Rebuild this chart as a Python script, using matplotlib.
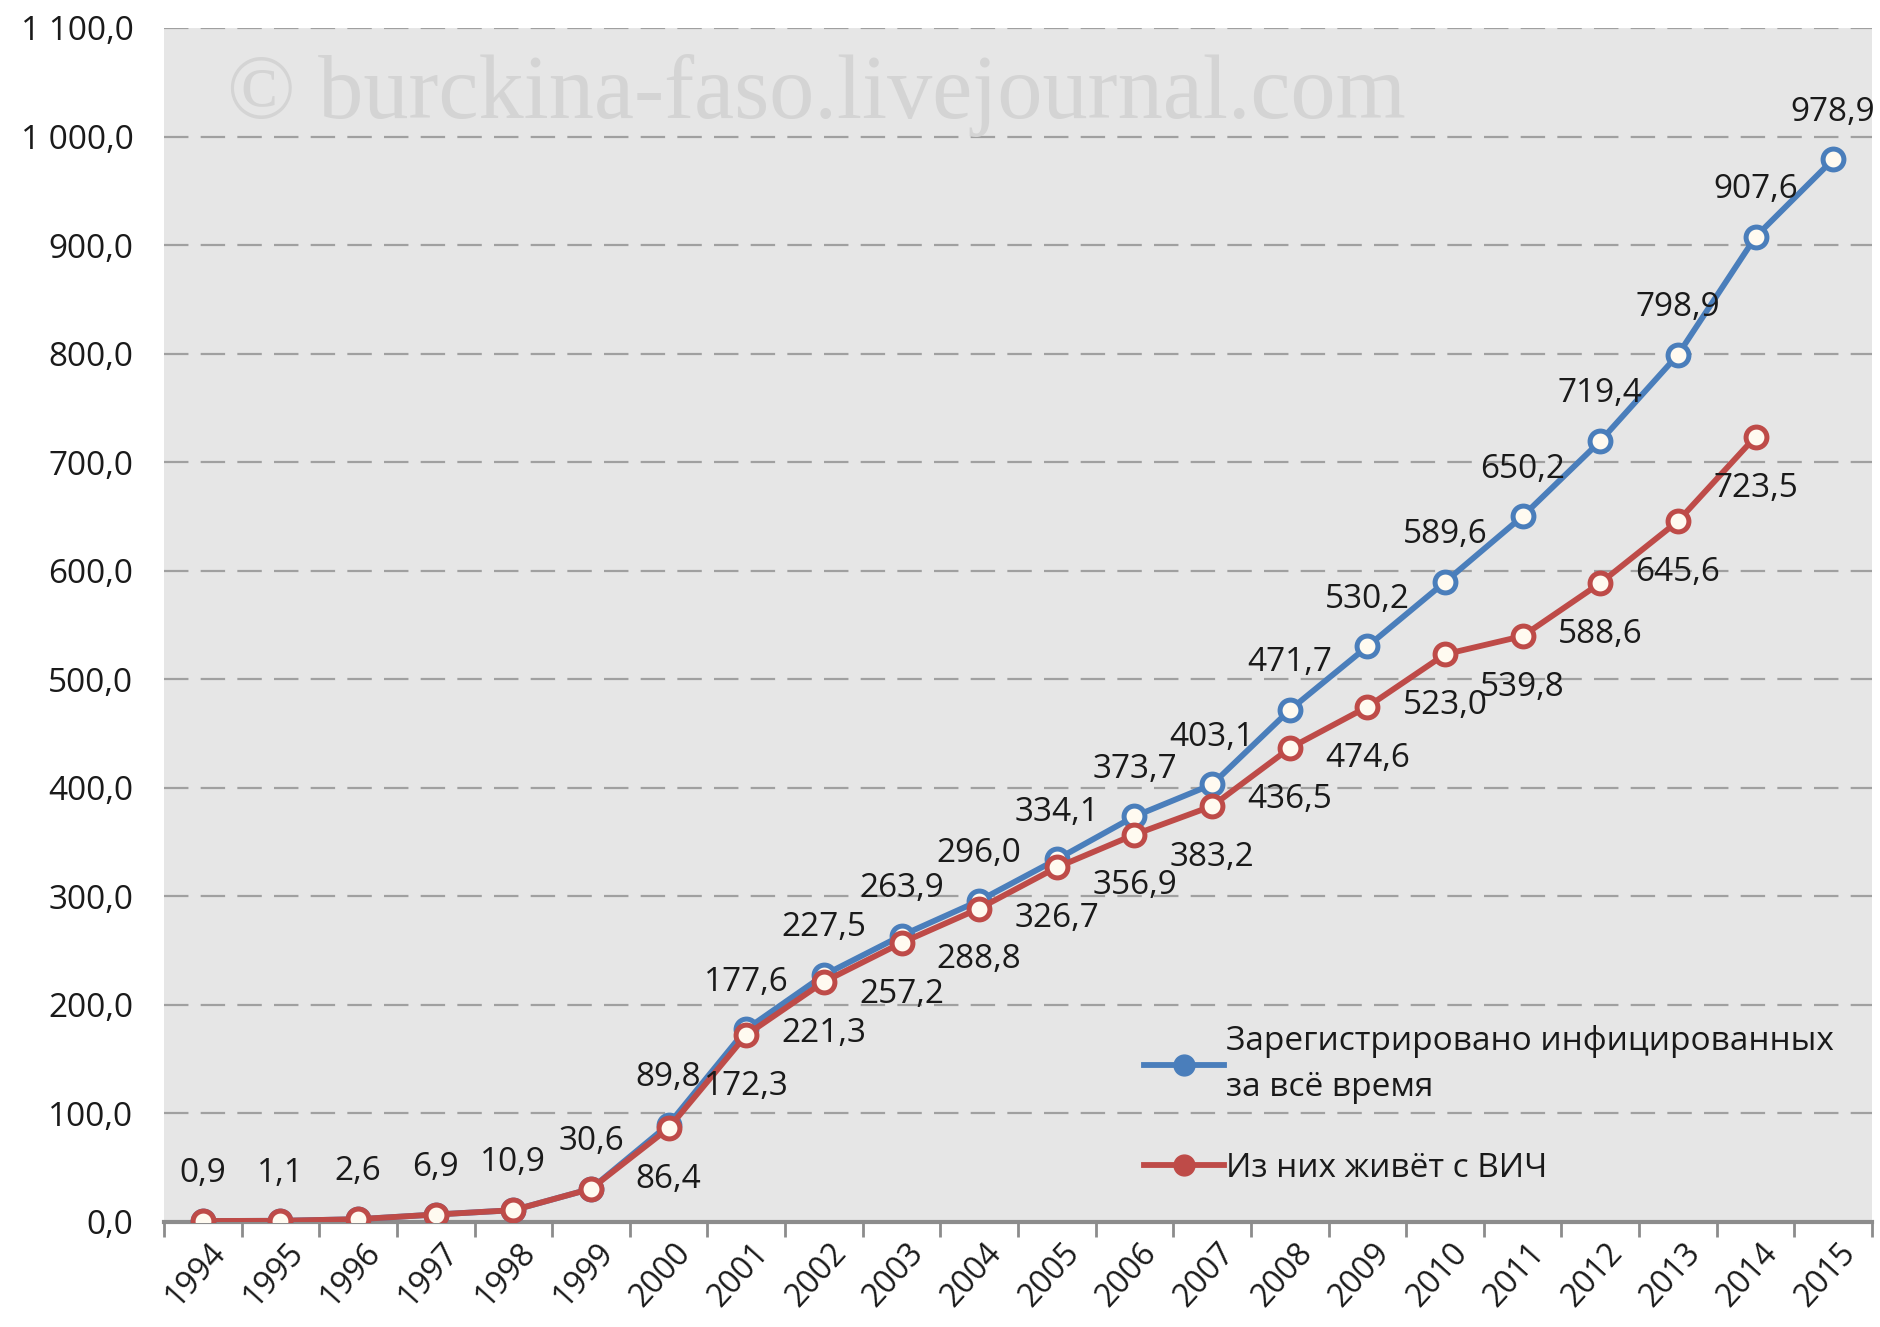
import matplotlib
matplotlib.use("Agg")
import matplotlib.pyplot as plt
import matplotlib.transforms as mtransforms
from matplotlib.lines import Line2D
import numpy as np

plt.rcParams['font.family'] = ['Open Sans', 'DejaVu Sans']

years = [str(y) for y in range(1994, 2016)]
registered = [0.9, 1.1, 2.6, 6.9, 10.9, 30.6, 89.8, 177.6, 227.5, 263.9, 296.0,
              334.1, 373.7, 403.1, 471.7, 530.2, 589.6, 650.2, 719.4, 798.9, 907.6, 978.9]
living = [0.9, 1.1, 2.6, 6.9, 10.9, 30.6, 86.4, 172.3, 221.3, 257.2, 288.8,
          326.7, 356.9, 383.2, 436.5, 474.6, 523.0, 539.8, 588.6, 645.6, 723.5]
living_label_from = 6  # red labels shown from 2000 on

legend_labels = ["Зарегистрировано инфицированных\nза всё время", "Из них живёт с ВИЧ"]
watermark = "© burckina-faso.livejournal.com"
yticks = list(range(0, 1101, 100))

BLUE = '#4a7ebb'
RED = '#be4b48'
FS = 24

fig = plt.figure(figsize=(18.81, 13.27), dpi=100)
ax = fig.add_axes([164/1881, 1 - 1222/1327, (1872-164)/1881, (1222-28)/1327])
ax.set_facecolor('#e6e6e6')

x_reg = np.arange(len(registered))
x_liv = np.arange(len(living))

ax.plot(x_reg, registered, color=BLUE, lw=4.2, marker='o', ms=15,
        mfc='#fffaf0', mec=BLUE, mew=3.6, zorder=4)
ax.plot(x_liv, living, color=RED, lw=4.2, marker='o', ms=15,
        mfc='#fffaf0', mec=RED, mew=3.6, zorder=5)

def fmt(v):
    s = f"{v:,.1f}".replace(",", " ").replace(".", ",")
    return s

for xi, v in zip(x_reg, registered):
    ax.annotate(fmt(v), (xi, v), xytext=(0, 34), textcoords='offset points',
                ha='center', va='center', fontsize=FS, color='#1a1a1a', zorder=6)
for xi, v in list(zip(x_liv, living))[living_label_from:]:
    ax.annotate(fmt(v), (xi, v), xytext=(0, -37), textcoords='offset points',
                ha='center', va='center', fontsize=FS, color='#1a1a1a', zorder=6)

ax.set_xlim(-0.5, len(years) - 0.5)
ax.set_ylim(0, 1100)
ax.set_yticks(yticks)
ax.set_yticklabels([fmt(v) for v in yticks], fontsize=FS, color='#1a1a1a')
ax.yaxis.grid(True, color='#a0a0a0', lw=1.6, dashes=(11, 5.5))
ax.set_axisbelow(True)
ax.tick_params(axis='y', length=0, pad=22)

ax.set_xticks(np.arange(len(years) + 1) - 0.5, minor=False)
ax.set_xticklabels([])
ax.tick_params(axis='x', length=11, width=2, color='#8c8c8c', direction='out')
for xi, yl in enumerate(years):
    off = mtransforms.ScaledTranslation(17/100, -26/100, fig.dpi_scale_trans)
    ax.text(xi, 0, yl, transform=ax.get_xaxis_transform() + off, rotation=48,
            ha='right', va='center', rotation_mode='anchor', fontsize=23, color='#1a1a1a')

for s in ['left', 'right', 'top']:
    ax.spines[s].set_visible(False)
ax.spines['bottom'].set_color('#8c8c8c')
ax.spines['bottom'].set_linewidth(3)
ax.spines['bottom'].set_zorder(3)

ax.text(0.037, 0.925, watermark, transform=ax.transAxes, fontsize=65,
        family='Liberation Serif', color='#d4d4d4', ha='left', va='baseline', zorder=1)

handles = [Line2D([0], [0], color=BLUE, lw=4.2, marker='o', ms=15, mfc=BLUE, mec=BLUE),
           Line2D([0], [0], color=RED, lw=4.2, marker='o', ms=15, mfc=RED, mec=RED)]
leg = ax.legend(handles, legend_labels, loc='upper left', bbox_to_anchor=(0.566, 0.176),
                frameon=False, fontsize=FS, handlelength=2.4, handletextpad=0.05,
                labelspacing=1.45, borderaxespad=0)
for t in leg.get_texts():
    t.set_linespacing(1.5)
    t.set_color('#1a1a1a')

fig.savefig('out.png', dpi=100, facecolor='white')
